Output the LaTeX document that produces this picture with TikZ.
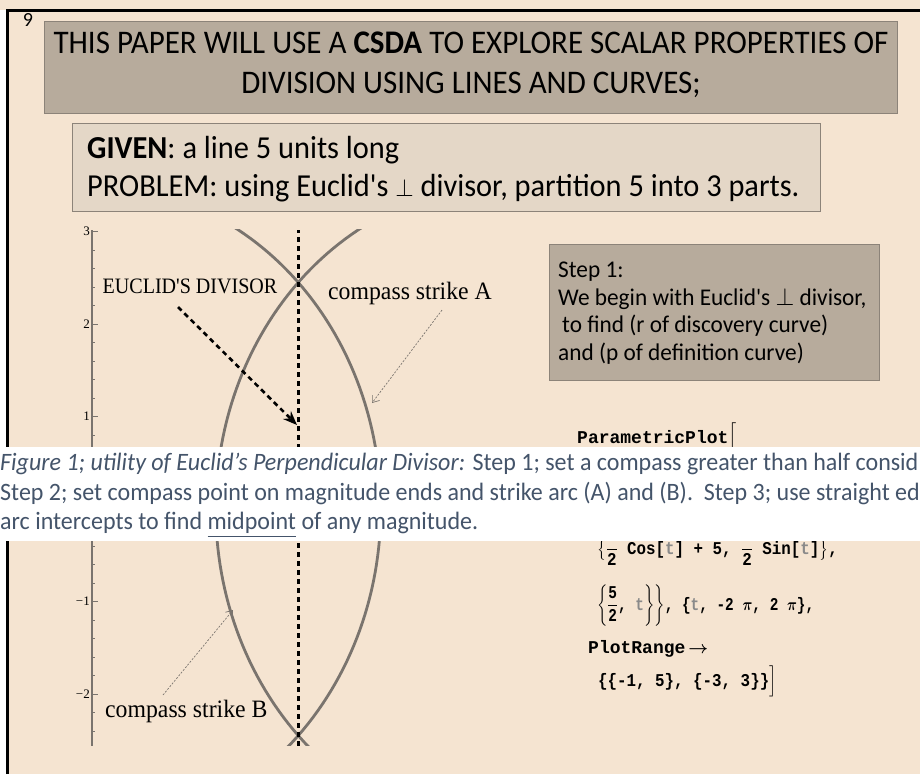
\documentclass[tikz,border=0pt]{standalone}
\usepackage{amsmath}
\usepackage{fontspec}
\setmainfont{Carlito}
\newfontfamily\plotfont{Liberation Serif}
\newfontfamily\codefont{Liberation Mono}
\usetikzlibrary{arrows.meta}
\definecolor{PageBeige}{HTML}{F5E4D1}
\definecolor{TitleFill}{HTML}{B7AB9C}
\definecolor{GivenFill}{HTML}{E4D7C7}
\definecolor{BoxEdge}{HTML}{8C8379}
\definecolor{CapInk}{HTML}{44546A}
\definecolor{ArcGray}{HTML}{7A746E}
\definecolor{TGray}{HTML}{8A8A8A}
\newcommand{\tvar}{\textcolor{TGray}{t}}
\newcommand{\codefrac}[2]{\genfrac{}{}{0.7pt}{0}{\hbox{#1}}{\hbox{#2}}}
\tikzset{
  panel/.style={draw=BoxEdge, line width=1pt, inner sep=0pt},
  headtxt/.style={font=\fontsize{33}{40}\selectfont, xscale=0.94, inner sep=0pt},
  bodytxt/.style={font=\fontsize{32}{38}\selectfont, xscale=0.95, inner sep=0pt},
  steptxt/.style={font=\fontsize{24}{28}\selectfont, xscale=0.97, inner sep=0pt},
  captxt/.style={font=\fontsize{25}{29}\selectfont, xscale=0.96, inner sep=0pt,
                 text=CapInk},
  plotlab/.style={font=\plotfont\fontsize{25}{30}\selectfont, xscale=0.95,
                  inner sep=0pt},
  ticklab/.style={font=\plotfont\fontsize{13}{15}\selectfont, anchor=east,
                  inner sep=2pt},
  codetxt/.style={font=\codefont\bfseries\fontsize{18}{22}\selectfont,
                  inner sep=0pt},
  axisline/.style={draw=ArcGray, line width=1.1pt},
  arcline/.style={draw=ArcGray, line width=2.8pt},
  midline/.style={line width=2.6pt, dash pattern=on 5pt off 4pt},
  divarrow/.style={line width=2.6pt, dash pattern=on 5pt off 4pt,
                   -{Stealth[length=14pt, width=11pt]}},
  strikearrow/.style={draw=ArcGray, line width=0.7pt,
                      dash pattern=on 2pt off 1.5pt,
                      -{Straight Barb[length=6pt, width=9pt]}},
}

\begin{document}
\begin{tikzpicture}[x=1pt, y=-1pt]
    \useasboundingbox (0,0) rectangle (920,774);
    \fill[PageBeige] (0,0) rectangle (920,774);
    \fill[white] (0,10) rectangle (7,774);
    \draw[line width=3pt] (7.5,774) -- (7.5,10) -- (920,10);

    \node[font=\fontsize{20}{22}\selectfont] (pagenum) at (28,20) {9};

    % heading panel
    \node[panel, fill=TitleFill, minimum width=853pt, minimum height=92pt]
      (head) at (470.5,67) {};
    \node[headtxt, anchor=base] (head1) at (471,53)
      {THIS PAPER WILL USE A \textbf{CSDA} TO EXPLORE SCALAR PROPERTIES OF};
    \node[headtxt, anchor=base] (head2) at (471,93)
      {DIVISION USING LINES AND CURVES;};

    % given / problem panel
    \node[panel, fill=GivenFill, minimum width=748pt, minimum height=88pt]
      (given) at (446,167) {};
    \node[bodytxt, anchor=base west] (given1) at (87,158)
      {\textbf{GIVEN}: a line 5 units long};
    \node[bodytxt, anchor=base west] (given2) at (87,196)
      {PROBLEM: using Euclid\textquotesingle s $\perp$ divisor, partition 5 into 3 parts.};

    % step 1 panel
    \node[panel, fill=TitleFill, minimum width=330pt, minimum height=136pt]
      (step) at (714,312) {};
    \node[steptxt, anchor=base west] (step1) at (558,277) {Step 1:};
    \node[steptxt, anchor=base west] (step2) at (558,305)
      {We begin with Euclid\textquotesingle s $\perp$ divisor,};
    \node[steptxt, anchor=base west] (step3) at (562,332)
      {to find (r of discovery curve)};
    \node[steptxt, anchor=base west] (step4) at (558,360)
      {and (p of definition curve)};

    % the plot: x 82.5pt per unit, y 92.5pt per unit, origin on the axis
    \begin{scope}[shift={(92,509)}, x=82.5pt, y=92.5pt]
      \draw[axisline] (0,-2.56) -- (0,3.02);
      \foreach \k in {-12,...,15}
        \draw[axisline, line width=0.8pt] (0,\k/5) -- ++(3pt,0);
      \foreach \k in {-2,...,3}
        \draw[axisline, line width=0.8pt] (0,\k) -- ++(6pt,0);
      \node[ticklab] (tick3) at (0,3) {3};
      \node[ticklab] (tick2) at (0,2) {2};
      \node[ticklab] (tick1) at (0,1) {1};
      \node[ticklab] (tickm1) at (0,-1) {−1};
      \node[ticklab] (tickm2) at (0,-2) {−2};
      \begin{scope}
        \clip (0,-2.56) rectangle (5,3.02);
        \draw[arcline] plot[domain=-90:90, samples=120]
          ({3.5*cos(\x)},{3.5*sin(\x)});
        \draw[arcline] plot[domain=90:270, samples=120]
          ({5+3.5*cos(\x)},{3.5*sin(\x)});
        \draw[midline] (2.5,-2.56) -- (2.5,3.02);
      \end{scope}
    \end{scope}

    \node[plotlab, font=\plotfont\fontsize{22}{25}\selectfont, xscale=0.96]
      (eucl) at (190,286) {EUCLID'S DIVISOR};
    \node[plotlab, anchor=base west] (strikeA) at (328,299) {compass strike A};
    \node[plotlab, anchor=base west] (strikeB) at (105,717) {compass strike B};

    \coordinate (divtail) at (178,307);
    \coordinate (divtip) at (297,425);
    \coordinate (tailA) at (442,310);
    \coordinate (tipA) at (372,403);
    \coordinate (tailB) at (163,695);
    \coordinate (tipB) at (233,610);
    \draw[divarrow] (divtail) -- (divtip);
    \draw[strikearrow] (tailA) -- (tipA);
    \draw[strikearrow] (tailB) -- (tipB);

    % Mathematica input, partly hidden by the caption band
    \node[codetxt, anchor=base west] (pplot) at (577,443)
      {ParametricPlot$\Big[$};
    \node[codetxt, xscale=0.88, anchor=base west] (row2) at (597,554)
      {$\big\{\codefrac{\phantom{2}}{2}$ Cos[\tvar] + 5,
       $\codefrac{\phantom{2}}{2}$ Sin[\tvar]$\big\}$,};
    \node[codetxt, xscale=0.8, anchor=base west] (row3) at (597,610)
      {$\bigg\{\codefrac{5}{2}\hbox{, \tvar}\bigg\}\bigg\}$,
       \{\tvar, -2 $\boldsymbol{\pi}$, 2 $\boldsymbol{\pi}$\},};
    \node[codetxt, anchor=base west] (row4) at (588,653)
      {PlotRange\,$\boldsymbol{\rightarrow}$};
    \node[codetxt, xscale=0.88, anchor=base west] (row5) at (598,686)
      {\{\{-1, 5\}, \{-3, 3\}\}$\Big]$};

    % caption band sits on top of everything
    \node[fill=white, minimum width=920pt, minimum height=94pt, inner sep=0pt]
      (band) at (460,494) {};
    \node[captxt, anchor=base west] (cap1) at (0,470.5)
      {\textit{Figure 1; utility of Euclid’s Perpendicular Divisor:} Step 1; set a compass greater than half consid};
    \node[captxt, anchor=base west] (cap2) at (0,500)
      {Step 2; set compass point on magnitude ends and strike arc (A) and (B).\ \ Step 3; use straight ed};
    \node[captxt, anchor=base west] (cap3) at (0,529)
      {arc intercepts to find \underline{midpoint} of any magnitude.};
\end{tikzpicture}
\end{document}
